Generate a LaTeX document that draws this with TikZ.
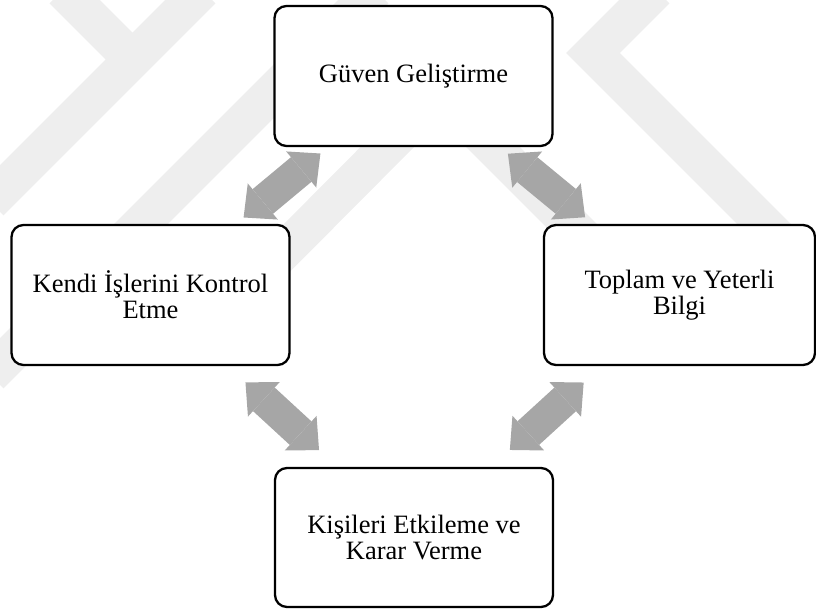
\documentclass[tikz,border=0pt]{standalone}
\usepackage{fontspec}
\setmainfont{Liberation Serif}
\usetikzlibrary{arrows.meta,calc}
\definecolor{arrowgray}{HTML}{A6A6A6}
\definecolor{markgray}{HTML}{EEEEEE}

\begin{document}
\begin{tikzpicture}[x=1pt, y=1pt,
    box/.style={draw, line width=2.3pt, rounded corners=12pt, fill=white,
        minimum width=278pt, minimum height=140pt, align=center,
        font=\fontsize{26.5}{26.2}\selectfont},
    dblarrow/.style={draw=arrowgray, line width=32pt,
        {Triangle[length=25pt,width=47pt,line width=0pt]}-{Triangle[length=25pt,width=47pt,line width=0pt]}},
    band/.style={draw=markgray, line width=38pt}]
    \useasboundingbox (0,0) rectangle (816,610);

    % faint watermark behind the diagram
    \draw[band] (63,620) -- (140,543);
    \draw[band] (202,620) -- (-10,408);
    \draw[band] (375,620) -- (-10,235);
    \draw[band] (440,516) -- (250,325);
    \draw[band] (440,516) -- (610,346);
    \draw[band] (656,620) -- (593,557) -- (800,350);

    \node[box] (guven) at (413.5,534) {Güven Geliştirme};
    \node[box] (kendi) at (150.5,315) {Kendi İşlerini Kontrol\\Etme};
    \node[box, minimum width=271pt] (toplam) at (679.5,315) {Toplam ve Yeterli\\Bilgi};
    \node[box, minimum height=139pt] (kisi) at (414,72.5) {Kişileri Etkileme ve\\Karar Verme};

    \coordinate (m1) at ($(kendi)!0.5!(guven)$);
    \coordinate (m2) at ($(guven)!0.5!(toplam)$);
    \coordinate (m3) at ($(kendi)!0.5!(kisi)$);
    \coordinate (m4) at ($(toplam)!0.5!(kisi)$);

    \draw[dblarrow] ($(m1)!50pt!(kendi)$) -- ($(m1)!50pt!(guven)$);
    \draw[dblarrow] ($(m2)!50pt!(guven)$) -- ($(m2)!50pt!(toplam)$);
    \draw[dblarrow] ($(m3)!50pt!(kendi)$) -- ($(m3)!50pt!(kisi)$);
    \draw[dblarrow] ($(m4)!50pt!(toplam)$) -- ($(m4)!50pt!(kisi)$);
\end{tikzpicture}
\end{document}
